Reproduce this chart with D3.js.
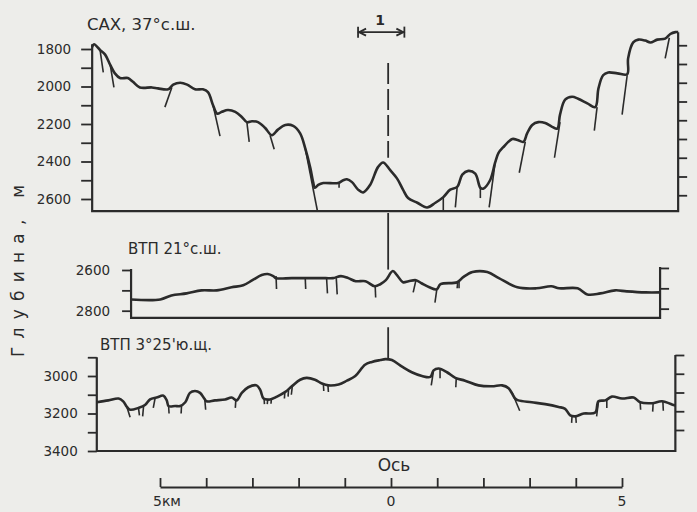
<!DOCTYPE html>
<html>
<head>
<meta charset="utf-8">
<script src="https://cdn.jsdelivr.net/npm/d3@7"></script>
<style>
  html, body { margin: 0; padding: 0; background: #ededea; }
  svg text { font-family: "DejaVu Sans", sans-serif; fill: #2b2b2b; }
</style>
</head>
<body>
<div id="chart"></div>
<script>
// profile data: [distance from axis, km ; depth, m]
const cahProfile = [[-6.39,1790],[-6.35,1775],[-6.22,1805],[-6.11,1830],[-6.00,1885],[-5.90,1930],[-5.79,1955],[-5.62,1955],[-5.51,1975],[-5.36,2005],[-5.10,2005],[-4.97,2010],[-4.75,2015],[-4.64,1990],[-4.49,1980],[-4.34,1990],[-4.17,2015],[-4.00,2015],[-3.89,2030],[-3.78,2100],[-3.69,2145],[-3.59,2135],[-3.46,2125],[-3.30,2135],[-3.15,2165],[-3.05,2190],[-2.94,2185],[-2.81,2190],[-2.66,2220],[-2.51,2260],[-2.38,2230],[-2.22,2205],[-2.05,2210],[-1.90,2250],[-1.79,2330],[-1.68,2435],[-1.62,2510],[-1.58,2540],[-1.51,2525],[-1.40,2515],[-1.08,2515],[-0.97,2500],[-0.89,2495],[-0.78,2510],[-0.65,2550],[-0.54,2565],[-0.39,2525],[-0.22,2430],[-0.11,2405],[0.04,2445],[0.19,2490],[0.32,2550],[0.43,2595],[0.63,2620],[0.84,2645],[1.02,2620],[1.19,2590],[1.34,2550],[1.49,2535],[1.60,2470],[1.73,2450],[1.88,2465],[1.99,2540],[2.05,2545],[2.20,2500],[2.31,2405],[2.38,2355],[2.48,2325],[2.68,2280],[2.79,2285],[2.92,2295],[3.00,2250],[3.11,2205],[3.24,2190],[3.39,2195],[3.54,2215],[3.65,2225],[3.71,2150],[3.82,2070],[3.97,2055],[4.10,2065],[4.30,2090],[4.47,2110],[4.54,2010],[4.64,1940],[4.75,1925],[4.95,1930],[5.16,1935],[5.18,1850],[5.29,1765],[5.40,1750],[5.55,1755],[5.66,1765],[5.81,1750],[5.98,1745],[6.09,1720],[6.20,1710],[6.26,1710]];
const cahFaults = [[[-6.22,1805],[-6.15,1925]],[[-6.00,1885],[-5.92,2005]],[[-4.67,2005],[-4.82,2110]],[[-3.78,2100],[-3.63,2265]],[[-3.05,2190],[-3.00,2295]],[[-2.55,2260],[-2.46,2335]],[[-1.79,2330],[-1.53,2660]],[[-1.06,2515],[-1.06,2540]],[[1.19,2590],[1.19,2660]],[[1.49,2535],[1.45,2645]],[[1.99,2540],[1.99,2595]],[[2.31,2405],[2.18,2645]],[[2.96,2295],[2.83,2460]],[[3.71,2190],[3.59,2380]],[[4.51,2110],[4.45,2235]],[[5.16,1940],[5.05,2150]],[[6.07,1740],[5.98,1850]]];

const epr21Profile = [[-5.55,2745],[-4.92,2745],[-4.68,2725],[-4.35,2715],[-4.03,2700],[-3.70,2700],[-3.38,2685],[-3.13,2675],[-2.93,2650],[-2.73,2625],[-2.60,2620],[-2.48,2630],[-2.42,2640],[-2.08,2640],[-1.67,2640],[-1.35,2640],[-1.19,2640],[-1.02,2630],[-0.86,2640],[-0.70,2655],[-0.49,2655],[-0.29,2680],[-0.17,2670],[-0.05,2650],[0.10,2605],[0.19,2625],[0.32,2660],[0.44,2655],[0.60,2650],[0.72,2665],[0.89,2685],[1.05,2695],[1.13,2670],[1.49,2660],[1.62,2635],[1.82,2610],[2.14,2610],[2.39,2640],[2.79,2685],[3.20,2690],[3.52,2680],[3.69,2690],[4.09,2690],[4.30,2720],[4.58,2715],[4.90,2700],[5.15,2705],[5.56,2710],[5.87,2710]];
const epr21Faults = [[[-2.42,2630],[-2.41,2693]],[[-1.79,2640],[-1.78,2693]],[[-1.33,2640],[-1.31,2715]],[[-1.12,2640],[-1.10,2720]],[[-0.28,2680],[-0.27,2735]],[[0.60,2650],[0.54,2710]],[[1.05,2695],[1.01,2760]],[[1.50,2655],[1.49,2690]],[[1.53,2655],[1.53,2690]]];

const epr3Profile = [[-6.29,3140],[-6.04,3130],[-5.82,3120],[-5.72,3135],[-5.64,3165],[-5.57,3180],[-5.39,3170],[-5.25,3155],[-5.14,3125],[-5.00,3115],[-4.85,3105],[-4.78,3130],[-4.74,3160],[-4.60,3160],[-4.49,3160],[-4.38,3140],[-4.28,3090],[-4.17,3080],[-4.06,3090],[-3.97,3120],[-3.92,3135],[-3.74,3130],[-3.52,3125],[-3.38,3115],[-3.27,3130],[-3.16,3090],[-3.02,3060],[-2.84,3050],[-2.76,3075],[-2.69,3120],[-2.55,3125],[-2.40,3110],[-2.22,3085],[-2.08,3055],[-1.90,3020],[-1.76,3010],[-1.58,3020],[-1.43,3040],[-1.29,3050],[-1.07,3045],[-0.89,3025],[-0.71,3000],[-0.50,2940],[-0.35,2925],[-0.17,2915],[-0.06,2910],[0.08,2915],[0.30,2950],[0.51,2980],[0.73,3000],[0.91,3005],[0.98,2970],[1.09,2960],[1.27,2980],[1.45,3010],[1.66,3025],[1.95,3050],[2.24,3055],[2.46,3050],[2.60,3065],[2.74,3120],[2.81,3130],[3.10,3140],[3.39,3150],[3.68,3165],[3.82,3175],[3.93,3210],[4.04,3215],[4.22,3200],[4.47,3195],[4.54,3135],[4.69,3130],[4.83,3110],[5.05,3120],[5.30,3115],[5.44,3140],[5.70,3145],[5.91,3135],[6.16,3155],[6.20,3158]];
const epr3Faults = [[[-5.64,3165],[-5.57,3220]],[[-5.39,3170],[-5.37,3210]],[[-5.28,3160],[-5.30,3215]],[[-5.03,3115],[-5.07,3170]],[[-4.74,3160],[-4.73,3200]],[[-4.46,3155],[-4.47,3200]],[[-3.96,3120],[-3.94,3180]],[[-3.29,3130],[-3.30,3170]],[[-2.68,3120],[-2.67,3150]],[[-2.60,3122],[-2.61,3150]],[[-2.52,3118],[-2.53,3148]],[[-2.23,3085],[-2.24,3120]],[[-2.15,3070],[-2.16,3110]],[[-2.07,3055],[-2.09,3100]],[[-1.40,3040],[-1.39,3080]],[[-1.30,3048],[-1.29,3085]],[[0.98,2970],[0.93,3050]],[[1.12,2962],[1.12,3012]],[[1.47,3012],[1.46,3060]],[[2.67,3085],[2.84,3185]],[[3.97,3212],[3.96,3250]],[[4.05,3214],[4.06,3250]],[[4.54,3135],[4.50,3215]],[[4.72,3128],[4.72,3170]],[[5.44,3140],[5.45,3180]],[[5.72,3145],[5.71,3190]],[[5.93,3135],[5.94,3185]]];

const titles = ['САХ, 37°с.ш.', 'ВТП 21°с.ш.', "ВТП 3°25'ю.щ."];
const tickValues1 = d3.range(1800, 2601, 100);
const tickValues2 = [2600, 2700, 2800];
const tickValues3 = d3.range(2900, 3401, 100);
const scaleKm = d3.range(-5, 6, 1);
const rangeLabel = '1';
const rangeKm = [-0.65, 0.35];

const width = 697, height = 512;
const ink = '#2b2b2b';

const svg = d3.select('#chart').append('svg')
  .attr('width', width)
  .attr('height', height);

// distance along profile -> px (axis at 0)
const x = d3.scaleLinear().domain([-6.4, 6.3]).range([91.7, 680]);

const panels = [
  { profile: cahProfile, faults: cahFaults, title: titles[0], tx: 87, ty: 30, tsize: 16.5,
    y: d3.scaleLinear().domain([1800, 2600]).range([49, 199]),
    km: [-6.39, 6.26], top: 1775, rtop: 1710, bottom: 2665,
    ticks: tickValues1, rshift: -20, tick: 11, pad: 10 },
  { profile: epr21Profile, faults: epr21Faults, title: titles[1], tx: 128, ty: 254, tsize: 15,
    y: d3.scaleLinear().domain([2600, 2800]).range([270, 310.7]),
    km: [-5.55, 5.87], top: 2595, rtop: 2585, bottom: 2835,
    ticks: tickValues2, rshift: -10, tick: 9, pad: 12 },
  { profile: epr3Profile, faults: epr3Faults, title: titles[2], tx: 100, ty: 350, tsize: 15,
    y: d3.scaleLinear().domain([3000, 3400]).range([376, 451]),
    km: [-6.29, 6.20], top: 2900, rtop: 2888, bottom: 3400,
    ticks: tickValues3, rshift: -12, tick: 9, pad: 10 }
];

const line = d3.line()
  .x(d => x(d[0]))
  .curve(d3.curveCatmullRom.alpha(0.5));

panels.forEach(p => {
  const g = svg.append('g');
  const xl = x(p.km[0]), xr = x(p.km[1]);

  // left axis
  const left = d3.axisLeft(p.y)
    .tickValues(p.ticks)
    .tickSize(p.tick)
    .tickSizeOuter(0)
    .tickPadding(p.pad)
    .tickFormat(d => d % 200 === 0 ? d : '');
  const la = g.append('g').attr('transform', `translate(${xl},0)`).call(left);
  la.select('.domain').remove();
  la.selectAll('line').attr('stroke', ink).attr('stroke-width', 1.8);
  la.selectAll('text').style('font-size', '13.5px').attr('fill', ink);

  // right axis (ticks only)
  const right = d3.axisRight(p.y)
    .tickValues(p.ticks.filter(t => t < p.bottom).map(t => t + p.rshift))
    .tickSize(9)
    .tickSizeOuter(0)
    .tickFormat('');
  const ra = g.append('g').attr('transform', `translate(${xr},0)`).call(right);
  ra.select('.domain').remove();
  ra.selectAll('line').attr('stroke', ink).attr('stroke-width', 1.8);

  // frame lines
  g.append('path')
    .attr('d', `M${xl},${p.y(p.top)}V${p.y(p.bottom)}H${xr}V${p.y(p.rtop)}`)
    .attr('fill', 'none').attr('stroke', ink).attr('stroke-width', 2.2);

  // faults
  g.selectAll('.fault').data(p.faults).enter().append('line')
    .attr('x1', d => x(d[0][0])).attr('y1', d => p.y(d[0][1]))
    .attr('x2', d => x(d[1][0])).attr('y2', d => p.y(d[1][1]))
    .attr('stroke', ink).attr('stroke-width', 1.6);

  // profile
  g.append('path')
    .attr('d', line.y(d => p.y(d[1]))(p.profile))
    .attr('fill', 'none').attr('stroke', ink)
    .attr('stroke-width', 2.6).attr('stroke-linejoin', 'round');

  g.append('text').attr('x', p.tx).attr('y', p.ty)
    .style('font-size', p.tsize + 'px').text(p.title);
});

// ridge axis line
const [p1, p2, p3] = panels;
svg.append('line')
  .attr('x1', x(0)).attr('x2', x(0))
  .attr('y1', p1.y(1875)).attr('y2', p1.y(2380))
  .attr('stroke', ink).attr('stroke-width', 1.8)
  .attr('stroke-dasharray', '21,5');
svg.append('line')
  .attr('x1', x(0)).attr('x2', x(0))
  .attr('y1', p2.y(2320)).attr('y2', p2.y(2598))
  .attr('stroke', ink).attr('stroke-width', 1.8);
svg.append('line')
  .attr('x1', x(0)).attr('x2', x(0))
  .attr('y1', p3.y(2740)).attr('y2', p3.y(2905))
  .attr('stroke', ink).attr('stroke-width', 1.8);

// range marker "1"
const my = p1.y(1710);
const mk = svg.append('g').attr('stroke', ink).attr('stroke-width', 1.8).attr('fill', 'none');
mk.append('line').attr('x1', x(rangeKm[0])).attr('x2', x(rangeKm[1])).attr('y1', my).attr('y2', my);
rangeKm.forEach((k, i) => {
  const s = i === 0 ? 1 : -1;
  mk.append('line').attr('x1', x(k)).attr('x2', x(k)).attr('y1', my - 5.5).attr('y2', my + 5.5);
  mk.append('path').attr('d', `M${x(k) + s * 8},${my - 3.5}L${x(k) + s * 1},${my}L${x(k) + s * 8},${my + 3.5}`);
});
svg.append('text').attr('x', x(d3.mean(rangeKm)) - 1).attr('y', my - 7)
  .attr('text-anchor', 'middle').style('font-size', '14px').style('font-weight', 'bold').text(rangeLabel);

// y label
svg.append('text')
  .attr('transform', 'translate(24,271) rotate(-90)')
  .attr('text-anchor', 'middle')
  .attr('textLength', 172).attr('lengthAdjust', 'spacing')
  .style('font-size', '17px')
  .text('Глубина, м');

// "Ось" label
svg.append('text').attr('x', 394).attr('y', 471).attr('text-anchor', 'middle')
  .style('font-size', '17px').text('Ось');

// km scale bar
const sx = d3.scaleLinear().domain([-5, 5]).range([160, 622]);
const sb = svg.append('g').attr('transform', 'translate(0,487)')
  .call(d3.axisTop(sx).tickValues(scaleKm).tickSize(9).tickSizeOuter(0).tickFormat(''));
sb.select('.domain').attr('stroke', ink).attr('stroke-width', 2);
sb.selectAll('line').attr('stroke', ink).attr('stroke-width', 1.8);

svg.append('text').attr('x', sx(-5) - 7).attr('y', 506).style('font-size', '14px').text('5км');
svg.append('text').attr('x', sx(0)).attr('y', 506).attr('text-anchor', 'middle').style('font-size', '14px').text('0');
svg.append('text').attr('x', sx(5)).attr('y', 506).attr('text-anchor', 'middle').style('font-size', '14px').text('5');
</script>
</body>
</html>
